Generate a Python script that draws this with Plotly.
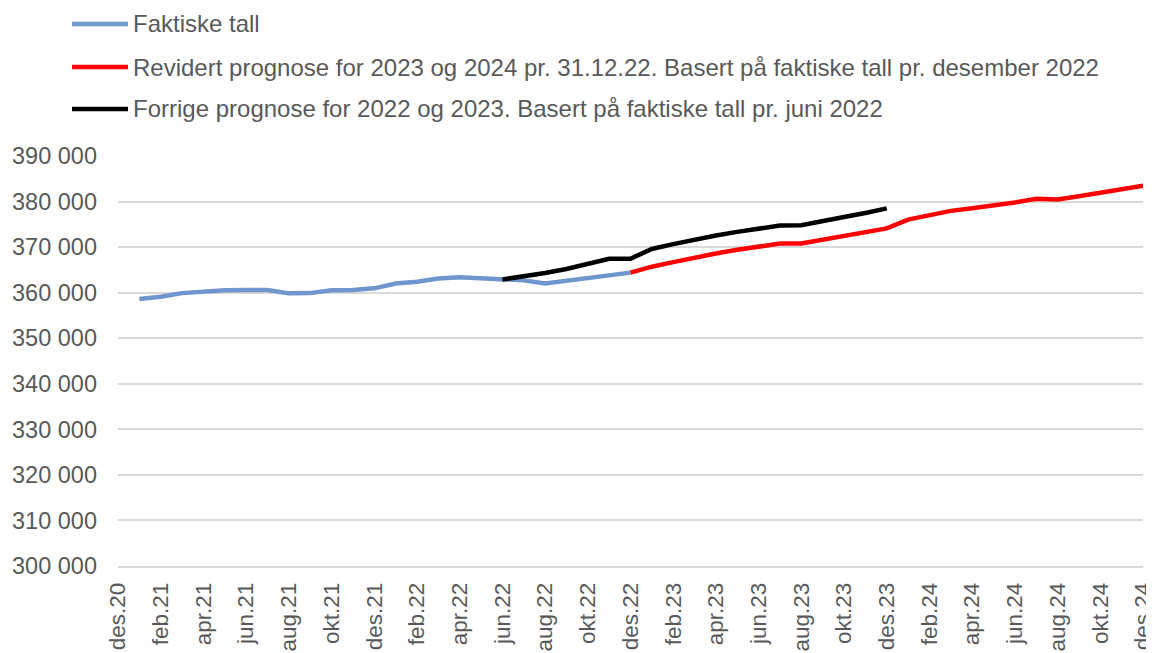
import plotly.graph_objects as go

months = ["des.20",
          "jan.21", "feb.21", "mar.21", "apr.21", "mai.21", "jun.21", "jul.21", "aug.21", "sep.21", "okt.21", "nov.21", "des.21",
          "jan.22", "feb.22", "mar.22", "apr.22", "mai.22", "jun.22", "jul.22", "aug.22", "sep.22", "okt.22", "nov.22", "des.22",
          "jan.23", "feb.23", "mar.23", "apr.23", "mai.23", "jun.23", "jul.23", "aug.23", "sep.23", "okt.23", "nov.23", "des.23",
          "jan.24", "feb.24", "mar.24", "apr.24", "mai.24", "jun.24", "jul.24", "aug.24", "sep.24", "okt.24", "nov.24", "des.24"]

# Faktiske tall: jan.21 - des.22
actual_months = months[1:25]
actual_values = [358600, 359100, 359900, 360300, 360550, 360600, 360600, 359850, 359900, 360550,
                 360600, 360950, 362000, 362400, 363100, 363400, 363100, 362900, 362700, 362000,
                 362600, 363300, 363800, 364400]

# Revidert prognose: des.22 - des.24
revised_months = months[24:49]
revised_values = [364400, 365700, 366700, 367700, 368600, 369400, 370100, 370800, 370800, 371600,
                  372500, 373350, 374100, 376050, 376950, 377950, 378550, 379100, 379800, 380600,
                  380450, 381150, 381900, 382700, 383500]

# Forrige prognose: jun.22 - des.23
previous_months = months[18:37]
previous_values = [362900, 363500, 364300, 365200, 366200, 367450, 367450, 369600, 370650, 371650,
                   372550, 373350, 374100, 374750, 374800, 375800, 376600, 377500, 378500]

tick_labels = months[::2]

series_names = ["Faktiske tall",
                "Revidert prognose for 2023 og 2024 pr. 31.12.22. Basert på faktiske tall pr. desember 2022",
                "Forrige prognose for 2022 og 2023. Basert på faktiske tall pr. juni 2022"]
series_colors = ["#7096CE", "#FF0000", "#000000"]

idx = {m: i for i, m in enumerate(months)}

# page body has an 8px margin; compensate so the plot area lands where the reference has it
W, H = 1146, 645
ML, MR, MT, MB = 110, 11, 148, 87
PW, PH = W - ML - MR, H - MT - MB

fig = go.Figure()
for name, col, ms, vals in zip(series_names, series_colors,
                               [actual_months, revised_months, previous_months],
                               [actual_values, revised_values, previous_values]):
    fig.add_trace(go.Scatter(x=[idx[m] for m in ms], y=vals, mode="lines",
                             name=name, showlegend=False,
                             line=dict(color=col, width=4.5)))

# custom legend (long line samples as in the reference)
row_y = [24, 67, 109]  # page pixel centres
shapes, annots = [], []
for name, col, ry in zip(series_names, series_colors, row_y):
    yp = (8 + MT + PH - ry) / PH
    x0 = (72 - 8 - ML) / PW
    x1 = (128 - 8 - ML) / PW
    shapes.append(dict(type="line", xref="paper", yref="paper", x0=x0, x1=x1, y0=yp, y1=yp,
                       line=dict(color=col, width=4.5)))
    annots.append(dict(xref="paper", yref="paper", x=(131 - 8 - ML) / PW, y=yp,
                       xanchor="left", yanchor="middle", showarrow=False, text=name,
                       font=dict(size=24, color="#595959")))

fig.update_layout(
    width=W, height=H,
    paper_bgcolor="white", plot_bgcolor="white",
    margin=dict(l=ML, r=MR, t=MT, b=MB, autoexpand=False),
    separators=", ",
    font=dict(family="Liberation Sans, Arial, sans-serif", color="#595959", size=23),
    showlegend=False,
    shapes=shapes, annotations=annots,
    xaxis=dict(range=[0, 48], tickmode="array",
               tickvals=[idx[m] for m in tick_labels], ticktext=tick_labels,
               tickangle=-90, showgrid=False, zeroline=False,
               showline=True, linecolor="#D9D9D9", linewidth=1.5,
               ticks="", ticklabelstandoff=6, ticklabeloverflow="allow",
               tickfont=dict(size=22.5, color="#595959")),
    yaxis=dict(range=[300000, 390000], dtick=10000, tickformat=",d",
               showgrid=True, gridcolor="#D9D9D9", gridwidth=1.5,
               zeroline=False, ticks="", ticklabelstandoff=20,
               tickfont=dict(size=23.5, color="#595959")),
)

fig.write_html("out.html")
